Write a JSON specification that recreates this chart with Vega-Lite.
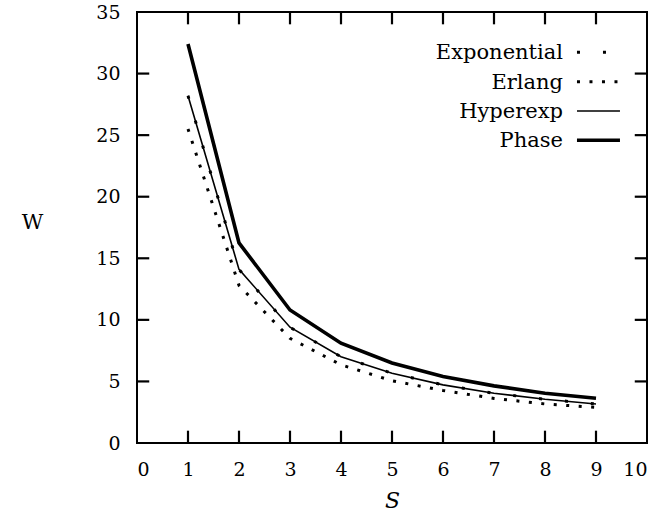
{
  "$schema": "https://vega.github.io/schema/vega-lite/v6.json",
  "width": 510,
  "height": 431,
  "autosize": {"type": "none"},
  "padding": {"left": 137, "top": 12, "right": 11, "bottom": 69},
  "background": "white",
  "config": {
    "view": {"stroke": "black", "strokeWidth": 2},
    "font": "DejaVu Serif",
    "axis": {
      "domain": false, "grid": false, "ticks": false,
      "labelFont": "DejaVu Serif", "labelFontSize": 19, "labelColor": "black",
      "labelPadding": 17,
      "titleFont": "DejaVu Serif", "titleFontSize": 21, "titleColor": "black", "titleFontWeight": "normal"
    },
    "text": {"font": "DejaVu Serif", "fontSize": 21, "color": "black"}
  },
  "datasets": {
    "curves": [
      {"s": 1, "w": 28.2, "series": "Exponential"},
      {"s": 2, "w": 14.1, "series": "Exponential"},
      {"s": 3, "w": 9.4, "series": "Exponential"},
      {"s": 4, "w": 7.0, "series": "Exponential"},
      {"s": 5, "w": 5.67, "series": "Exponential"},
      {"s": 6, "w": 4.72, "series": "Exponential"},
      {"s": 7, "w": 4.04, "series": "Exponential"},
      {"s": 8, "w": 3.55, "series": "Exponential"},
      {"s": 9, "w": 3.17, "series": "Exponential"},
      {"s": 1, "w": 25.5, "series": "Erlang"},
      {"s": 2, "w": 12.8, "series": "Erlang"},
      {"s": 3, "w": 8.5, "series": "Erlang"},
      {"s": 4, "w": 6.35, "series": "Erlang"},
      {"s": 5, "w": 5.05, "series": "Erlang"},
      {"s": 6, "w": 4.27, "series": "Erlang"},
      {"s": 7, "w": 3.62, "series": "Erlang"},
      {"s": 8, "w": 3.17, "series": "Erlang"},
      {"s": 9, "w": 2.89, "series": "Erlang"},
      {"s": 1, "w": 28.2, "series": "Hyperexp"},
      {"s": 2, "w": 14.1, "series": "Hyperexp"},
      {"s": 3, "w": 9.4, "series": "Hyperexp"},
      {"s": 4, "w": 7.0, "series": "Hyperexp"},
      {"s": 5, "w": 5.67, "series": "Hyperexp"},
      {"s": 6, "w": 4.72, "series": "Hyperexp"},
      {"s": 7, "w": 4.04, "series": "Hyperexp"},
      {"s": 8, "w": 3.55, "series": "Hyperexp"},
      {"s": 9, "w": 3.17, "series": "Hyperexp"},
      {"s": 1, "w": 32.4, "series": "Phase"},
      {"s": 2, "w": 16.25, "series": "Phase"},
      {"s": 3, "w": 10.8, "series": "Phase"},
      {"s": 4, "w": 8.1, "series": "Phase"},
      {"s": 5, "w": 6.5, "series": "Phase"},
      {"s": 6, "w": 5.4, "series": "Phase"},
      {"s": 7, "w": 4.64, "series": "Phase"},
      {"s": 8, "w": 4.04, "series": "Phase"},
      {"s": 9, "w": 3.64, "series": "Phase"}
    ],
    "xticks": [{"s": 1}, {"s": 2}, {"s": 3}, {"s": 4}, {"s": 5}, {"s": 6}, {"s": 7}, {"s": 8}, {"s": 9}],
    "yticks": [{"w": 5}, {"w": 10}, {"w": 15}, {"w": 20}, {"w": 25}, {"w": 30}]
  },
  "data": {"name": "curves"},
  "layer": [
    {
      "transform": [{"filter": "datum.series == 'Hyperexp'"}],
      "mark": {"type": "line", "color": "black", "strokeWidth": 1.6, "strokeJoin": "miter"},
      "encoding": {
        "x": {"field": "s", "type": "quantitative", "scale": {"domain": [0, 10], "nice": false},
              "axis": {"values": [0,1,2,3,4,5,6,7,8,9,10], "title": "S", "titleFontStyle": "italic", "titleY": 57, "titleBaseline": "middle", "titleFontSize": 22}},
        "y": {"field": "w", "type": "quantitative", "scale": {"domain": [0, 35], "nice": false},
              "axis": {"values": [0,5,10,15,20,25,30,35], "title": "W", "titleAngle": 0, "titleX": -105, "titleY": 210, "titleAlign": "center", "titleBaseline": "middle"}}
      }
    },
    {
      "transform": [{"filter": "datum.series == 'Exponential'"}],
      "mark": {"type": "line", "color": "black", "strokeWidth": 3, "strokeCap": "butt", "strokeDash": [3, 23]},
      "encoding": {"x": {"field": "s", "type": "quantitative"}, "y": {"field": "w", "type": "quantitative"}}
    },
    {
      "transform": [{"filter": "datum.series == 'Erlang'"}],
      "mark": {"type": "line", "color": "black", "strokeWidth": 3, "strokeCap": "butt", "strokeDash": [3, 9.5]},
      "encoding": {"x": {"field": "s", "type": "quantitative"}, "y": {"field": "w", "type": "quantitative"}}
    },
    {
      "transform": [{"filter": "datum.series == 'Phase'"}],
      "mark": {"type": "line", "color": "black", "strokeWidth": 3.6, "strokeJoin": "miter"},
      "encoding": {"x": {"field": "s", "type": "quantitative"}, "y": {"field": "w", "type": "quantitative"}}
    },
    {
      "data": {"values": [{"label": "Exponential"}]},
      "mark": {"type": "text", "align": "right", "baseline": "middle"},
      "encoding": {"text": {"field": "label"}, "x": {"datum": 8.353, "type": "quantitative"}, "y": {"datum": 31.65, "type": "quantitative"}}
    },
    {
      "data": {"values": [{"label": "Erlang"}]},
      "mark": {"type": "text", "align": "right", "baseline": "middle"},
      "encoding": {"text": {"field": "label"}, "x": {"datum": 8.353, "type": "quantitative"}, "y": {"datum": 29.26, "type": "quantitative"}}
    },
    {
      "data": {"values": [{"label": "Hyperexp"}]},
      "mark": {"type": "text", "align": "right", "baseline": "middle"},
      "encoding": {"text": {"field": "label"}, "x": {"datum": 8.353, "type": "quantitative"}, "y": {"datum": 26.88, "type": "quantitative"}}
    },
    {
      "data": {"values": [{"label": "Phase"}]},
      "mark": {"type": "text", "align": "right", "baseline": "middle"},
      "encoding": {"text": {"field": "label"}, "x": {"datum": 8.353, "type": "quantitative"}, "y": {"datum": 24.5, "type": "quantitative"}}
    },
    {
      "data": {"values": [{"series": "Exponential"}]},
      "mark": {"type": "rule", "color": "black", "strokeWidth": 3, "strokeCap": "butt", "strokeDash": [3, 23]},
      "encoding": {"x": {"datum": 8.627, "type": "quantitative"}, "x2": {"datum": 9.47}, "y": {"datum": 31.73, "type": "quantitative"}}
    },
    {
      "data": {"values": [{"series": "Erlang"}]},
      "mark": {"type": "rule", "color": "black", "strokeWidth": 3, "strokeCap": "butt", "strokeDash": [3, 9.5]},
      "encoding": {"x": {"datum": 8.627, "type": "quantitative"}, "x2": {"datum": 9.47}, "y": {"datum": 29.34, "type": "quantitative"}}
    },
    {
      "data": {"values": [{"series": "Hyperexp"}]},
      "mark": {"type": "rule", "color": "black", "strokeWidth": 1.6},
      "encoding": {"x": {"datum": 8.627, "type": "quantitative"}, "x2": {"datum": 9.47}, "y": {"datum": 26.96, "type": "quantitative"}}
    },
    {
      "data": {"values": [{"series": "Phase"}]},
      "mark": {"type": "rule", "color": "black", "strokeWidth": 3.6},
      "encoding": {"x": {"datum": 8.627, "type": "quantitative"}, "x2": {"datum": 9.47}, "y": {"datum": 24.58, "type": "quantitative"}}
    },
    {
      "data": {"name": "xticks"},
      "mark": {"type": "rule", "color": "black", "strokeWidth": 2.2, "opacity": 1},
      "encoding": {"x": {"field": "s", "type": "quantitative"}, "y": {"datum": 0, "type": "quantitative"}, "y2": {"datum": 1.0}}
    },
    {
      "data": {"name": "xticks"},
      "mark": {"type": "rule", "color": "black", "strokeWidth": 2.2, "opacity": 1},
      "encoding": {"x": {"field": "s", "type": "quantitative"}, "y": {"datum": 35, "type": "quantitative"}, "y2": {"datum": 34.0}}
    },
    {
      "data": {"name": "yticks"},
      "mark": {"type": "rule", "color": "black", "strokeWidth": 2.2, "opacity": 1},
      "encoding": {"y": {"field": "w", "type": "quantitative"}, "x": {"datum": 0, "type": "quantitative"}, "x2": {"datum": 0.24}}
    },
    {
      "data": {"name": "yticks"},
      "mark": {"type": "rule", "color": "black", "strokeWidth": 2.2, "opacity": 1},
      "encoding": {"y": {"field": "w", "type": "quantitative"}, "x": {"datum": 10, "type": "quantitative"}, "x2": {"datum": 9.76}}
    }
  ]
}
